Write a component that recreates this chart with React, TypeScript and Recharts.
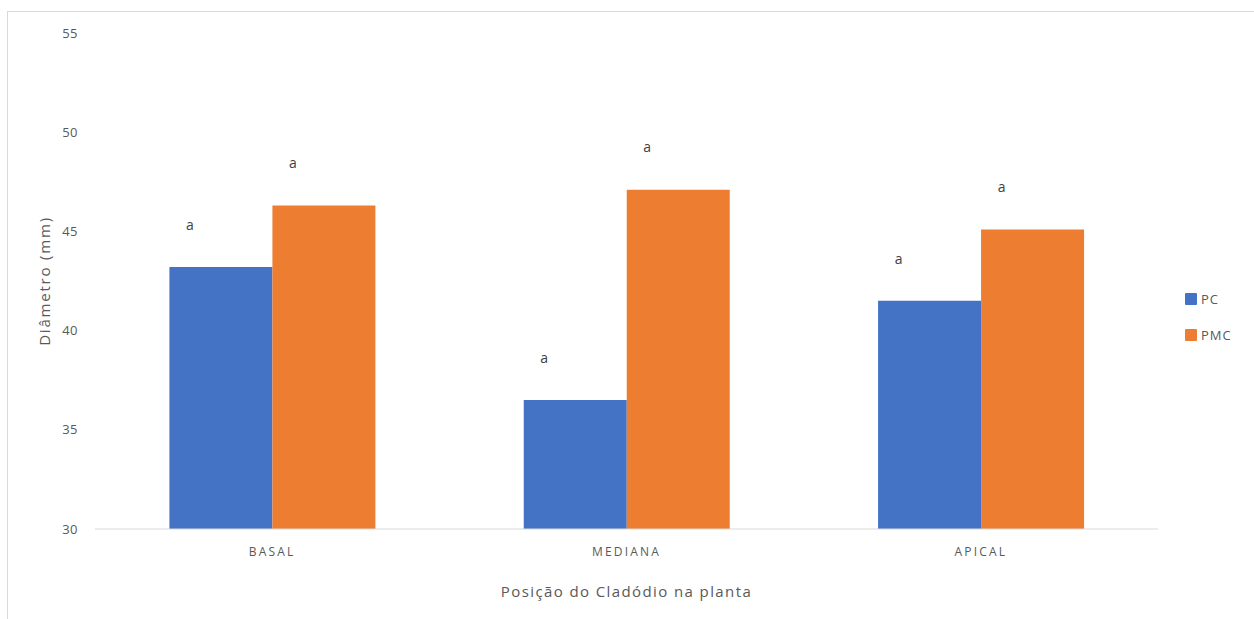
import React from 'react';
import { BarChart, Bar, XAxis, YAxis, Legend, LabelList, Label } from 'recharts';

// Mean cladode diameter (mm) by position on the plant
const categories = ['BASAL', 'MEDIANA', 'APICAL'];
const pcValues = [43.2, 36.5, 41.5];
const pmcValues = [46.3, 47.1, 45.1];
const pcLetters = ['a', 'a', 'a'];
const pmcLetters = ['a', 'a', 'a'];
const seriesNames = ['PC', 'PMC'];
const seriesColors = ['#4472C4', '#ED7D31'];
const yTicks = [30, 35, 40, 45, 50, 55];

const data = categories.map((c, i) => ({
  name: c,
  PC: pcValues[i],
  PMC: pmcValues[i],
  PCLetter: pcLetters[i],
  PMCLetter: pmcLetters[i],
}));

const FONT = '"Open Sans", sans-serif';
const TEXT = '#595959';

// Significance letter drawn above each bar
const letterLabel = (props: any) => {
  const { x, y, width, value } = props;
  return (
    <text
      x={x + width / 2 - 31}
      y={y - 41}
      textAnchor="middle"
      dominantBaseline="middle"
      fontFamily={FONT}
      fontSize={14}
      fill="#404040"
    >
      {value}
    </text>
  );
};

const renderLegend = (props: any) => {
  const { payload } = props;
  return (
    <div style={{ width: 82, paddingLeft: 27, boxSizing: 'border-box', fontFamily: FONT }}>
      {payload.map((entry: any, i: number) => (
        <div
          key={entry.value}
          style={{ display: 'flex', alignItems: 'center', height: 24, marginBottom: i === 0 ? 12 : 0 }}
        >
          <span
            style={{
              display: 'inline-block',
              width: 12,
              height: 12,
              borderRadius: 1,
              background: entry.color,
              marginRight: 4,
            }}
          />
          <span style={{ fontSize: 13, color: TEXT, letterSpacing: 1 }}>{entry.value}</span>
        </div>
      ))}
    </div>
  );
};

export default function App() {
  return (
    <div style={{ position: 'absolute', left: 0, top: 0, width: 1254, height: 619, background: '#fff' }}>
      <div
        style={{
          position: 'absolute',
          left: 7,
          top: 11,
          width: 1247,
          height: 608,
          borderTop: '1px solid #d9d9d9',
          borderLeft: '1px solid #d9d9d9',
          boxSizing: 'border-box',
        }}
      />
      <div style={{ position: 'absolute', left: 0, top: 0 }}>
        <BarChart
          width={1254}
          height={619}
          data={data}
          margin={{ top: 33, right: 14, bottom: 0, left: 0 }}
          barCategoryGap="21%"
          barGap={0}
        >
          <XAxis
            dataKey="name"
            height={90}
            axisLine={{ stroke: '#d9d9d9', strokeWidth: 1 }}
            tickLine={false}
            tickSize={0}
            tickMargin={18}
            tick={{ fill: TEXT, fontSize: 12, fontFamily: FONT, letterSpacing: 2.2 }}
          >
            <Label
              value="Posição do Cladódio na planta"
              position="insideBottom"
              offset={22}
              fill={TEXT}
              fontSize={15}
              fontFamily={FONT}
              letterSpacing={1.4}
            />
          </XAxis>
          <YAxis
            domain={[30, 55]}
            ticks={yTicks}
            width={95}
            axisLine={false}
            tickLine={false}
            tickSize={0}
            tickMargin={17}
            tick={{ fill: TEXT, fontSize: 13, fontFamily: FONT, letterSpacing: 0.5 }}
          >
            <Label
              value="Diâmetro (mm)"
              position="center"
              angle={-90}
              dx={-3}
              fill={TEXT}
              fontSize={15}
              fontFamily={FONT}
              letterSpacing={1.8}
            />
          </YAxis>
          <Legend
            layout="vertical"
            align="right"
            verticalAlign="middle"
            content={renderLegend}
            wrapperStyle={{ top: 287 }}
          />
          <Bar dataKey="PC" name={seriesNames[0]} fill={seriesColors[0]} isAnimationActive={false}>
            <LabelList dataKey="PCLetter" content={letterLabel} />
          </Bar>
          <Bar dataKey="PMC" name={seriesNames[1]} fill={seriesColors[1]} isAnimationActive={false}>
            <LabelList dataKey="PMCLetter" content={letterLabel} />
          </Bar>
        </BarChart>
      </div>
    </div>
  );
}
